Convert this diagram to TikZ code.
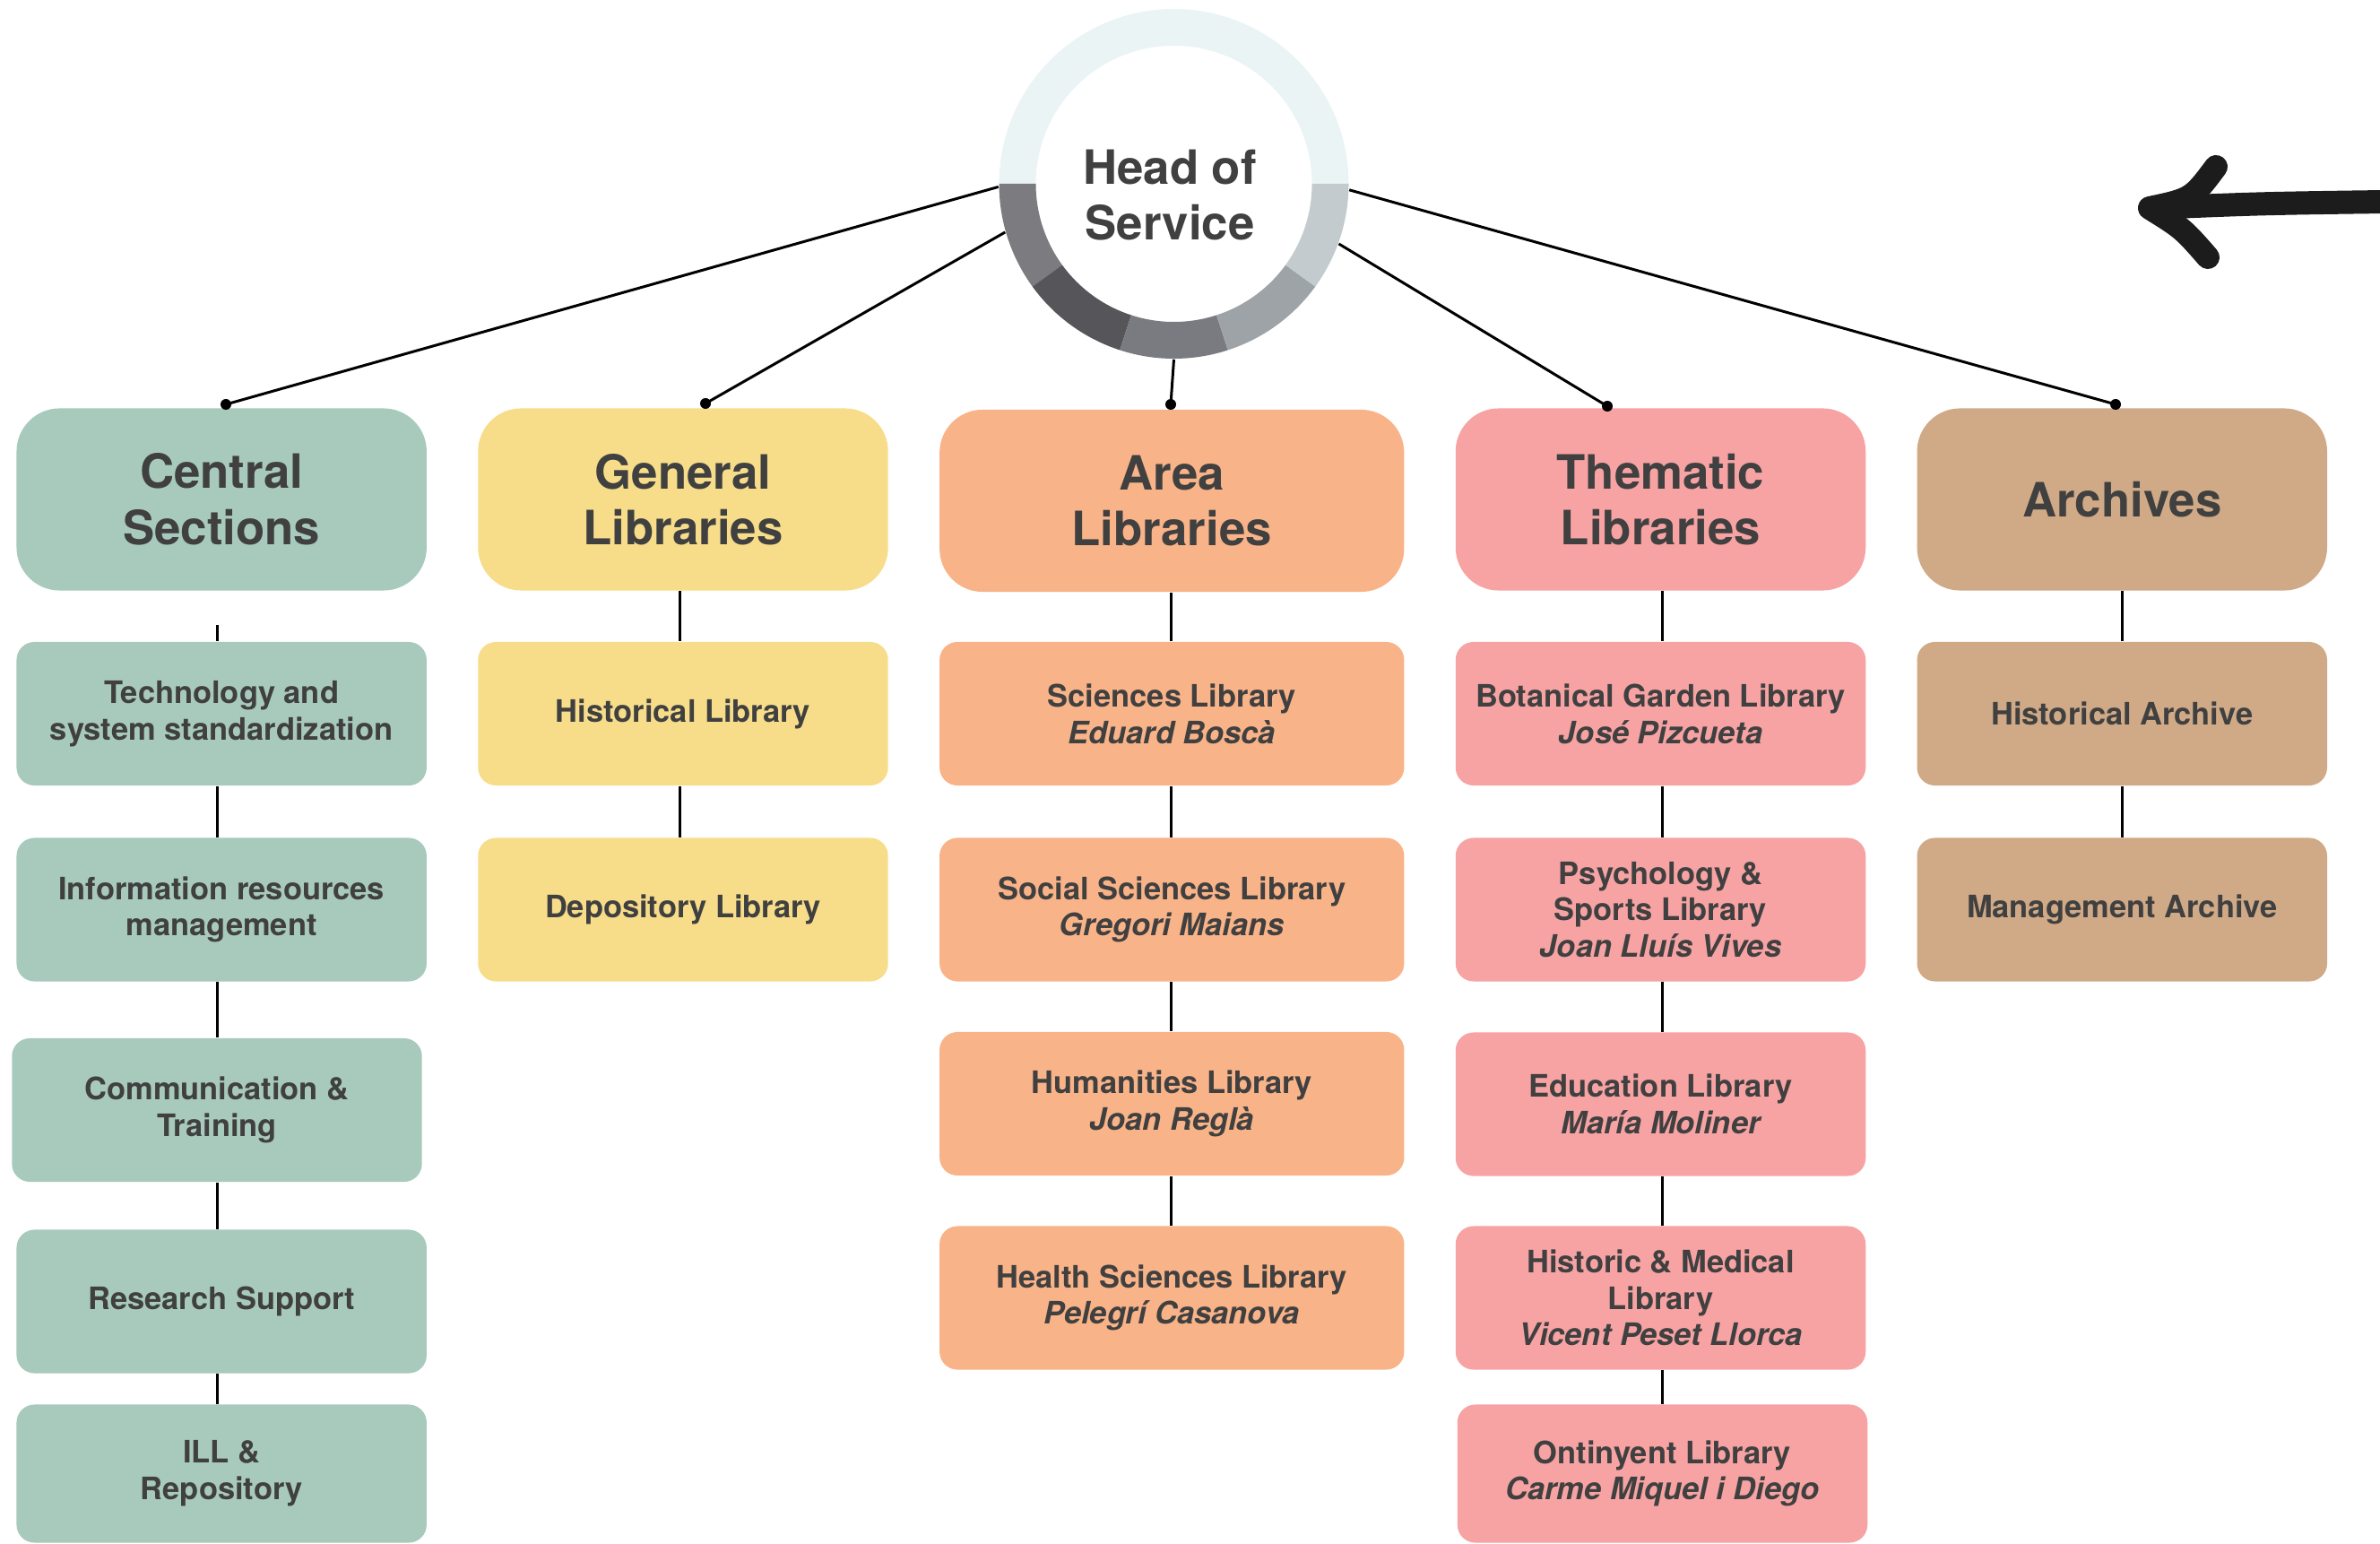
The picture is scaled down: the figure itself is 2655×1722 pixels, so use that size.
\documentclass[tikz,border=0pt]{standalone}
\usepackage{fontspec}
\setmainfont{TeX Gyre Heros}
\definecolor{cgreen}{HTML}{A8CABD}
\definecolor{cyellow}{HTML}{F7DD8A}
\definecolor{corange}{HTML}{F9B388}
\definecolor{cpink}{HTML}{F7A3A3}
\definecolor{cbrown}{HTML}{D0AA87}
\definecolor{ctext}{HTML}{404040}
\definecolor{ringtop}{HTML}{EAF4F5}
\definecolor{sega}{HTML}{7B7B80}
\definecolor{segb}{HTML}{55555A}
\definecolor{segc}{HTML}{7A7B80}
\definecolor{segd}{HTML}{9EA3A7}
\definecolor{sege}{HTML}{C4CBCE}
\definecolor{arrowc}{HTML}{1C1C1C}
\tikzset{
  subbox/.style={fill=#1, rounded corners=0.2cm, minimum width=4.572cm, minimum height=1.6cm,
    inner sep=0pt, align=center, text=ctext, font=\bfseries\fontsize{9.8}{11.6}\selectfont},
  hdrbox/.style={fill=#1, rounded corners=0.48cm, minimum width=4.572cm, minimum height=2.03cm,
    inner sep=0pt, align=center, text=ctext, font=\bfseries\fontsize{15}{17.8}\selectfont},
  conn/.style={line width=0.85pt, black},
  dotmark/.style={fill=black},
}
\begin{document}
\begin{tikzpicture}[x=0.01cm,y=0.01cm]
\useasboundingbox (0,0) rectangle (2655,-1722);

% head circle
\node[circle, minimum size=3.9cm, inner sep=0pt] (head) at (1309.5,-205) {};
\begin{scope}[shift={(1309.5,-205)}]
  \fill[ringtop] (0:195) arc[start angle=0,end angle=180,radius=195] -- (180:154) arc[start angle=180,end angle=0,radius=154] -- cycle;
  \foreach \a/\b/\c in {180/216/sega,216/252/segb,252/288/segc,288/324/segd,324/360/sege}
    \fill[\c] (\a:195) arc[start angle=\a,end angle=\b,radius=195] -- (\b:154) arc[start angle=\b,end angle=\a,radius=154] -- cycle;
\end{scope}
\node[align=center, text=ctext, font=\bfseries\fontsize{15}{17.6}\selectfont, inner sep=0pt] (headtxt) at (1305,-218) {Head of\\Service};

% Central Sections
\node[hdrbox=cgreen] (c0) at (247.2,-557) {Central\\Sections};
\node[subbox=cgreen] (c1) at (247.2,-796) {Technology and\\system standardization};
\node[subbox=cgreen] (c2) at (247.2,-1014.5) {Information resources\\management};
\node[subbox=cgreen] (c3) at (242,-1238) {Communication \&\\Training};
\node[subbox=cgreen] (c4) at (247.2,-1451.5) {Research Support};
\node[subbox=cgreen, minimum height=1.54cm] (c5) at (247.2,-1643.5) {ILL \&\\Repository};

% General Libraries
\node[hdrbox=cyellow] (g0) at (762,-557) {General\\Libraries};
\node[subbox=cyellow] (g1) at (762,-796) {Historical Library};
\node[subbox=cyellow] (g2) at (762,-1014.5) {Depository Library};

% Area Libraries
\node[hdrbox=corange, minimum width=5.18cm] (a0) at (1307.25,-558.5) {Area\\Libraries};
\node[subbox=corange, minimum width=5.18cm] (a1) at (1307.25,-796) {Sciences Library\\{\itshape Eduard Boscà}};
\node[subbox=corange, minimum width=5.18cm] (a2) at (1307.25,-1014.5) {Social Sciences Library\\{\itshape Gregori Maians}};
\node[subbox=corange, minimum width=5.18cm] (a3) at (1307.25,-1231) {Humanities Library\\{\itshape Joan Reglà}};
\node[subbox=corange, minimum width=5.18cm] (a4) at (1307.25,-1447.5) {Health Sciences Library\\{\itshape Pelegrí Casanova}};

% Thematic Libraries
\node[hdrbox=cpink] (t0) at (1852.5,-557) {Thematic\\Libraries};
\node[subbox=cpink] (t1) at (1852.5,-796) {Botanical Garden Library\\{\itshape José Pizcueta}};
\node[subbox=cpink] (t2) at (1852.5,-1014.5) {Psychology \&\\Sports Library\\{\itshape Joan Lluís Vives}};
\node[subbox=cpink] (t3) at (1852.5,-1231.5) {Education Library\\{\itshape María Moliner}};
\node[subbox=cpink] (t4) at (1852.5,-1447.5) {Historic \& Medical\\Library\\{\itshape Vicent Peset Llorca}};
\node[subbox=cpink, minimum height=1.54cm] (t5) at (1854.5,-1643.5) {Ontinyent Library\\{\itshape Carme Miquel i Diego}};

% Archives
\node[hdrbox=cbrown] (r0) at (2367.25,-557) {Archives};
\node[subbox=cbrown] (r1) at (2367.25,-796) {Historical Archive};
\node[subbox=cbrown] (r2) at (2367.25,-1014.5) {Management Archive};

% column line positions
\coordinate (xc) at (242.5,0);
\coordinate (xg) at (758.5,0);
\coordinate (xa) at (1306,0);
\coordinate (xt) at (1854,0);
\coordinate (xr) at (2367,0);
\coordinate (cstub) at (242.5,-697);

% vertical connectors
\draw[conn] (cstub) -- (c1.north -| xc);
\draw[conn] (c1.south -| xc) -- (c2.north -| xc);
\draw[conn] (c2.south -| xc) -- (c3.north -| xc);
\draw[conn] (c3.south -| xc) -- (c4.north -| xc);
\draw[conn] (c4.south -| xc) -- (c5.north -| xc);

\draw[conn] (g0.south -| xg) -- (g1.north -| xg);
\draw[conn] (g1.south -| xg) -- (g2.north -| xg);

\draw[conn] (a0.south -| xa) -- (a1.north -| xa);
\draw[conn] (a1.south -| xa) -- (a2.north -| xa);
\draw[conn] (a2.south -| xa) -- (a3.north -| xa);
\draw[conn] (a3.south -| xa) -- (a4.north -| xa);

\draw[conn] (t0.south -| xt) -- (t1.north -| xt);
\draw[conn] (t1.south -| xt) -- (t2.north -| xt);
\draw[conn] (t2.south -| xt) -- (t3.north -| xt);
\draw[conn] (t3.south -| xt) -- (t4.north -| xt);
\draw[conn] (t4.south -| xt) -- (t5.north -| xt);

\draw[conn] (r0.south -| xr) -- (r1.north -| xr);
\draw[conn] (r1.south -| xr) -- (r2.north -| xr);

% head connectors
\coordinate (dC) at (252,-451);
\coordinate (dG) at (787,-450);
\coordinate (dA) at (1306,-451);
\coordinate (dT) at (1793,-453);
\coordinate (dR) at (2360,-451);
\draw[conn] (head.181.5) -- (dC);
\draw[conn] (head.196.8) -- (dG);
\draw[conn] (head.270.4) -- (dA);
\draw[conn] (head.340) -- (dT);
\draw[conn] (head.358) -- (dR);
\foreach \d in {dC,dG,dA,dT,dR} \fill[dotmark] (\d) circle (6);

% hand-drawn arrow
\draw[line width=0.26cm, arrowc, line cap=round, line join=round]
  (2660,-225) .. controls (2520,-227) .. (2400,-232);
\draw[line width=0.26cm, arrowc, line cap=round, line join=round]
  (2472,-186) .. controls (2445,-222) .. (2398,-232) .. controls (2435,-255) .. (2463,-287);
\end{tikzpicture}
\end{document}
